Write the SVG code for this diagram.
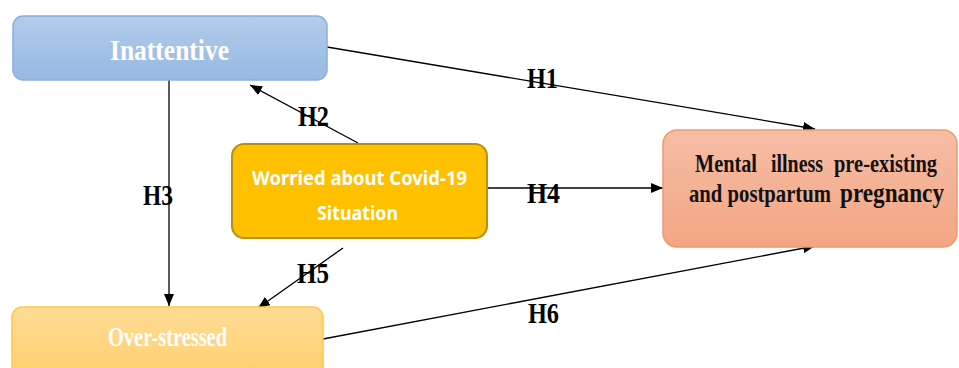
<svg xmlns="http://www.w3.org/2000/svg" width="959" height="368" viewBox="0 0 959 368">
  <style>
    .serif { font-family: "Liberation Serif", "Times New Roman", serif; font-weight: bold; }
    .sans { font-family: "Noto Sans", "Open Sans", sans-serif; font-weight: bold; }
    .white { fill: #ffffff; }
    .dark { fill: #111111; }
    .label { fill: #000000; font-size: 30px; }
    .conn { stroke: #000000; stroke-width: 1.3; fill: none; marker-end: url(#arrow); }
  </style>
  <defs>
    <marker id="arrow" viewBox="0 0 12 10" refX="12" refY="5" markerWidth="12" markerHeight="10" markerUnits="userSpaceOnUse" orient="auto">
      <path d="M0,0 L12,5 L0,10 Z" fill="#000000"/>
    </marker>
    <linearGradient id="gBlue" x1="0" y1="0" x2="0" y2="1">
      <stop offset="0" stop-color="#b2cdeb"/>
      <stop offset="1" stop-color="#96b8e2"/>
    </linearGradient>
    <linearGradient id="gSalmon" x1="0" y1="0" x2="0" y2="1">
      <stop offset="0" stop-color="#f6bea6"/>
      <stop offset="1" stop-color="#f3a583"/>
    </linearGradient>
    <linearGradient id="gYellow" x1="0" y1="0" x2="0" y2="1">
      <stop offset="0" stop-color="#ffdc96"/>
      <stop offset="1" stop-color="#ffd06e"/>
    </linearGradient>
  </defs>

  <rect width="959" height="368" fill="#ffffff"/>

  <!-- connectors -->
  <g id="connectors">
    <line class="conn" x1="327" y1="47" x2="815" y2="129"/>
    <line class="conn" x1="358" y1="143" x2="250" y2="85"/>
    <line class="conn" x1="169" y1="80" x2="169" y2="306"/>
    <line class="conn" x1="487" y1="188" x2="663" y2="188"/>
    <line class="conn" x1="343" y1="248" x2="258" y2="308"/>
    <line class="conn" x1="323" y1="339" x2="815" y2="246"/>
    <g class="serif label">
      <text x="527" y="88" textLength="31" lengthAdjust="spacingAndGlyphs">H1</text>
      <text x="298" y="126" textLength="31" lengthAdjust="spacingAndGlyphs">H2</text>
      <text x="143" y="205" textLength="30" lengthAdjust="spacingAndGlyphs">H3</text>
      <text x="527" y="203" textLength="33" lengthAdjust="spacingAndGlyphs">H4</text>
      <text x="297" y="283" textLength="32" lengthAdjust="spacingAndGlyphs">H5</text>
      <text x="528" y="323" textLength="31" lengthAdjust="spacingAndGlyphs">H6</text>
    </g>
  </g>

  <!-- nodes -->
  <g id="inattentive">
    <rect x="13" y="16" width="314" height="64" rx="10" fill="url(#gBlue)" stroke="#8cafdc" stroke-width="1.5"/>
    <text class="serif white" x="110" y="60" font-size="30" textLength="119" lengthAdjust="spacingAndGlyphs">Inattentive</text>
  </g>

  <g id="worried">
    <rect x="232" y="144" width="255" height="94" rx="12" fill="#ffc000" stroke="#b8900f" stroke-width="2"/>
    <text class="sans white" x="252" y="185" font-size="20" textLength="215" lengthAdjust="spacingAndGlyphs">Worried about Covid-19</text>
    <text class="sans white" x="317" y="220" font-size="20" textLength="81" lengthAdjust="spacingAndGlyphs">Situation</text>
  </g>

  <g id="mental">
    <rect x="663" y="130" width="294" height="117" rx="14" fill="url(#gSalmon)" stroke="#ef9a70" stroke-width="1.5"/>
    <!-- condensed bold serif lettering -->
    <g class="serif dark" font-size="26" transform="translate(689,0) scale(0.8,1)">
      <text x="7.5" y="172" textLength="77.5" lengthAdjust="spacingAndGlyphs">Mental</text>
      <text x="102.5" y="172" textLength="65" lengthAdjust="spacingAndGlyphs">illness</text>
      <text x="181.25" y="172" textLength="128.75" lengthAdjust="spacingAndGlyphs">pre-existing</text>
      <text x="0" y="202" textLength="177.5" lengthAdjust="spacingAndGlyphs">and postpartum</text>
      <text x="188.75" y="202" font-size="27" textLength="130" lengthAdjust="spacingAndGlyphs">pregnancy</text>
    </g>
  </g>

  <g id="over-stressed">
    <rect x="12" y="307" width="311" height="70" rx="10" fill="url(#gYellow)" stroke="#ffc846" stroke-width="1.5"/>
    <text class="serif white" x="108" y="346" font-size="27" textLength="119" lengthAdjust="spacingAndGlyphs">Over-stressed</text>
  </g>
</svg>
